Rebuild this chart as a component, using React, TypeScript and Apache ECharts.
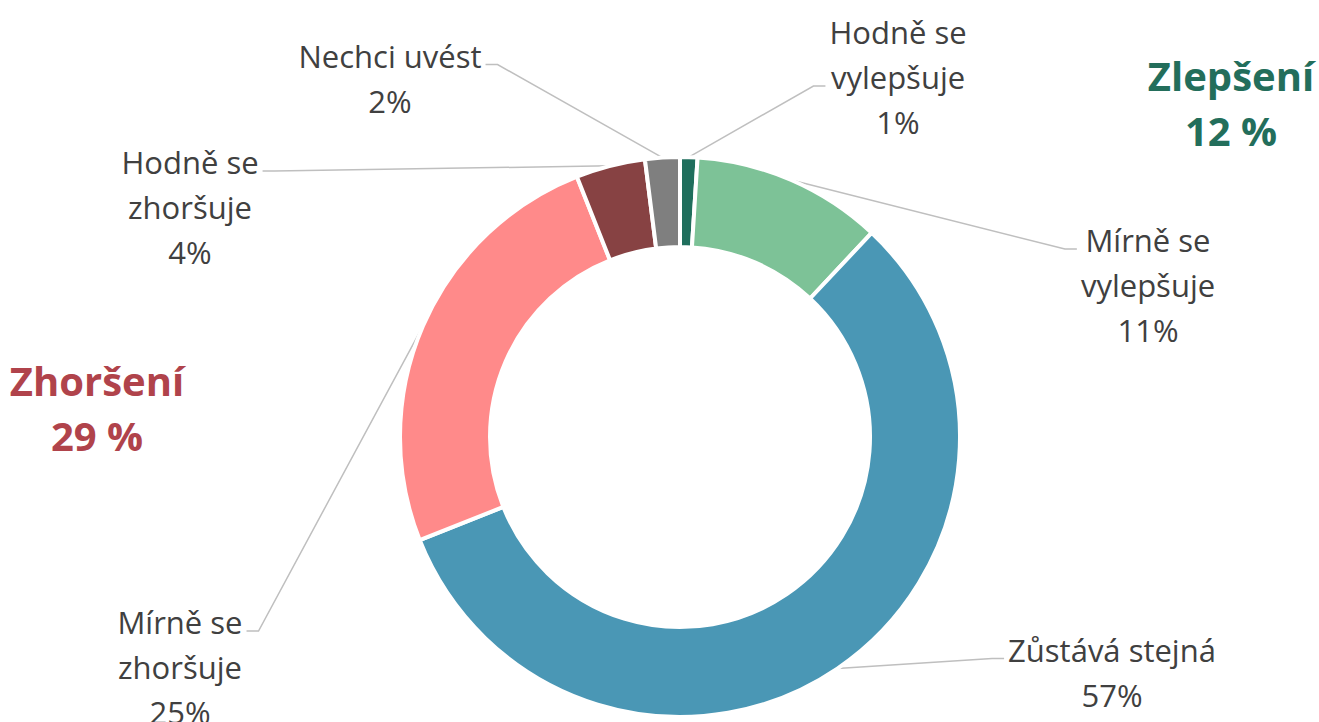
import React, { useEffect, useRef } from "react";
import * as echarts from "echarts";

const categories = [
  "Hodně se\nvylepšuje",
  "Mírně se\nvylepšuje",
  "Zůstává stejná",
  "Mírně se\nzhoršuje",
  "Hodně se\nzhoršuje",
  "Nechci uvést",
];
const values = [1, 11, 57, 25, 4, 2];
const colors = ["#1F6E5C", "#7DC297", "#4A97B5", "#FF8A8A", "#874243", "#7F7F7F"];
const improveIdx = [0, 1];
const worsenIdx = [3, 4];
const summaryTitles = ["Zlepšení", "Zhoršení"];

// label anchor positions (layout, px) and which text line the leader meets
const labelPos = [
  [898, 77],
  [1148, 285],
  [1112, 672],
  [180, 667],
  [190, 207],
  [390, 78],
];
const leaderLine = [1, 0, 0, 0, 0, 0];
const LINE_H = 45;

export default function App() {
  const ref = useRef<HTMLDivElement>(null);
  useEffect(() => {
    if (!ref.current) return;
    const chart = echarts.init(ref.current, undefined, { renderer: "svg" });
    const improve = improveIdx.reduce((s, i) => s + values[i], 0);
    const worsen = worsenIdx.reduce((s, i) => s + values[i], 0);
    const font = "'Open Sans', 'Noto Sans', sans-serif";
    chart.setOption({
      animation: false,
      backgroundColor: "#ffffff",
      graphic: [
        {
          type: "text",
          x: 1231,
          y: 48,
          style: {
            text: `${summaryTitles[0]}\n${improve} %`,
            fill: "#236E5B",
            font: `bold 40px ${font}`,
            lineHeight: 55,
            align: "center",
            verticalAlign: "top",
          },
        },
        {
          type: "text",
          x: 97,
          y: 353,
          style: {
            text: `${summaryTitles[1]}\n${worsen} %`,
            fill: "#B0434B",
            font: `bold 40px ${font}`,
            lineHeight: 55,
            align: "center",
            verticalAlign: "top",
          },
        },
      ],
      series: [
        {
          type: "pie",
          center: [680, 437],
          radius: [190, 280],
          startAngle: 90,
          clockwise: true,
          avoidLabelOverlap: false,
          itemStyle: { borderColor: "#ffffff", borderWidth: 4 },
          label: {
            show: true,
            position: "outer",
            formatter: (p: any) => `${p.name}\n${p.value}%`,
            color: "#404040",
            fontFamily: font,
            fontSize: 31,
            lineHeight: LINE_H,
            align: "center",
          },
          labelLine: {
            show: true,
            length: 20,
            length2: 20,
            lineStyle: { color: "#BFBFBF", width: 1.5 },
          },
          labelLayout: (params: any) => {
            const i = params.dataIndex;
            const p = labelPos[i];
            const out: any = { x: p[0], y: p[1], align: "center", verticalAlign: "middle" };
            const pts = params.labelLinePoints;
            const w = params.labelRect ? params.labelRect.width : 0;
            const h = params.labelRect ? params.labelRect.height : 0;
            if (pts && pts.length && w) {
              const anchor = pts[0];
              const nLines = Math.max(1, Math.round(h / LINE_H));
              const lineY = p[1] - ((nLines - 1) / 2) * LINE_H + leaderLine[i] * LINE_H + 9;
              const right = p[0] > anchor[0];
              const endX = right ? p[0] - w / 2 - 4 : p[0] + w / 2 + 4;
              const elbowX = right ? endX - 12 : endX + 12;
              out.labelLinePoints = [anchor, [elbowX, lineY], [endX, lineY]];
            }
            return out;
          },
          emphasis: { disabled: true },
          data: categories.map((c, i) => ({
            name: c,
            value: values[i],
            itemStyle: { color: colors[i] },
          })),
        },
      ],
    });
    return () => chart.dispose();
  }, []);
  return (
    <div
      ref={ref}
      style={{ position: "fixed", left: 0, top: 0, width: 1319, height: 722 }}
    />
  );
}
